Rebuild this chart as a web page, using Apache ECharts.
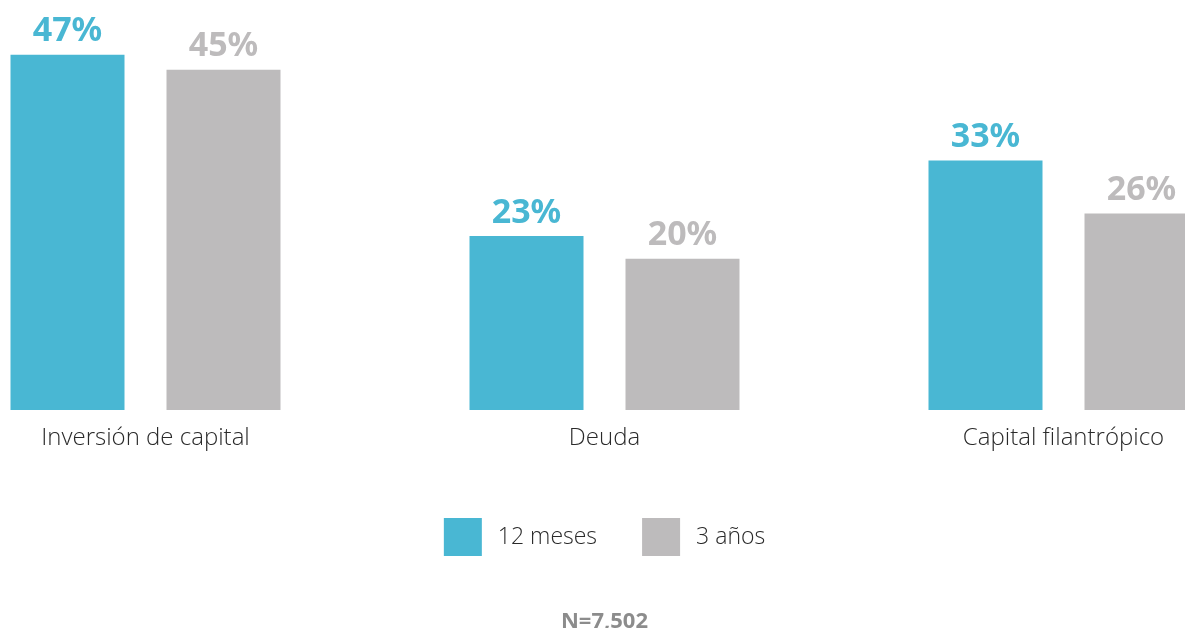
<!DOCTYPE html>
<html>
<head>
<meta charset="utf-8">
<script src="https://cdn.jsdelivr.net/npm/echarts@6/dist/echarts.min.js"></script>
<style>
html,body{margin:0;padding:0;background:#fff;overflow:hidden;width:1185px;height:628px;}
#chart{position:absolute;left:-84.5px;top:0;width:1377px;height:628px;}
</style>
</head>
<body>
<div id="chart"></div>
<script>
var categories = ['Inversión de capital', 'Deuda', 'Capital filantrópico'];
var seriesNames = ['12 meses', '3 años'];
var values12m = [47, 23, 33];
var values3y = [45, 20, 26];
var sampleNote = 'N=7,502';

var teal = '#49B7D3';
var gray = '#BDBBBC';
var font = 'Noto Sans';
var lightFont = 'Open Sans';

var chart = echarts.init(document.getElementById('chart'));
chart.setOption({
  backgroundColor: '#fff',
  animation: false,
  title: {
    text: sampleNote,
    left: 'center',
    top: 606,
    textStyle: {fontFamily: font, fontSize: 22, fontWeight: 'bold', color: '#8C8C8C'}
  },
  legend: {
    data: seriesNames,
    left: 'center',
    top: 513,
    icon: 'rect',
    itemWidth: 38,
    itemHeight: 38,
    itemGap: 45,
    textStyle: {fontFamily: lightFont, fontSize: 23, fontWeight: 300, color: '#2a2a2a', padding: [0, 0, 0, 11]}
  },
  grid: {left: 0, right: 0, top: 32, bottom: 218, containLabel: false},
  xAxis: {
    type: 'category',
    data: categories,
    axisLine: {show: false},
    axisTick: {show: false},
    axisLabel: {fontFamily: lightFont, fontSize: 24, fontWeight: 300, color: '#2a2a2a', margin: 16}
  },
  yAxis: {
    type: 'value',
    min: 0,
    max: 50,
    show: false,
    splitLine: {show: false}
  },
  series: [
    {
      name: seriesNames[0],
      type: 'bar',
      data: values12m,
      barWidth: 114,
      barGap: '36.84%',
      itemStyle: {color: teal},
      label: {show: true, position: 'top', distance: 6, formatter: '{c}%',
        fontFamily: font, fontSize: 34, fontWeight: 'bold', color: teal}
    },
    {
      name: seriesNames[1],
      type: 'bar',
      data: values3y,
      barWidth: 114,
      itemStyle: {color: gray},
      label: {show: true, position: 'top', distance: 6, formatter: '{c}%',
        fontFamily: font, fontSize: 34, fontWeight: 'bold', color: gray}
    }
  ]
});
</script>
</body>
</html>
